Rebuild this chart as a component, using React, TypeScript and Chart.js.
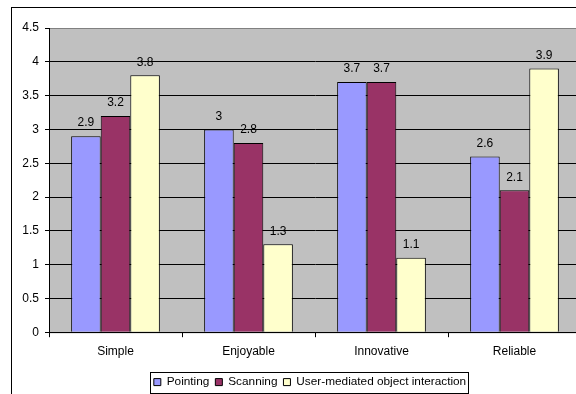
import React, { useEffect, useRef } from "react";
import { Chart, registerables } from "chart.js";

Chart.register(...registerables);

const categories = ["Simple", "Enjoyable", "Innovative", "Reliable"];
const seriesNames = ["Pointing", "Scanning", "User-mediated object interaction"];
const pointing = [2.9, 3, 3.7, 2.6];
const scanning = [3.2, 2.8, 3.7, 2.1];
const userMediated = [3.8, 1.3, 1.1, 3.9];
const seriesColors = ["#9999FF", "#993366", "#FFFFCC"];
const yMin = 0;
const yMax = 4.5;
const yStep = 0.5;

const FONT = "'Liberation Sans', Arial, sans-serif";

const framePlugin = {
  id: "frame",
  beforeDraw(chart: any) {
    const { ctx, chartArea: a } = chart;
    ctx.save();
    ctx.fillStyle = "#ffffff";
    ctx.fillRect(0, 0, chart.width, chart.height);
    ctx.strokeStyle = "#000000";
    ctx.lineWidth = 1;
    ctx.strokeRect(11.5, 7.5, chart.width + 20, chart.height + 20);
    ctx.fillStyle = "#C0C0C0";
    ctx.fillRect(a.left, a.top, a.right - a.left, a.bottom - a.top);
    ctx.strokeStyle = "#808080";
    ctx.strokeRect(a.left + 0.5, a.top + 0.5, a.right - a.left, a.bottom - a.top);
    ctx.restore();
  },
};

const valueLabelPlugin = {
  id: "valueLabels",
  afterDatasetsDraw(chart: any) {
    const { ctx } = chart;
    ctx.save();
    ctx.fillStyle = "#000000";
    ctx.font = `12px ${FONT}`;
    ctx.textAlign = "center";
    ctx.textBaseline = "middle";
    chart.data.datasets.forEach((ds: any, i: number) => {
      const meta = chart.getDatasetMeta(i);
      meta.data.forEach((el: any, j: number) => {
        ctx.fillText(String(ds.data[j]), el.x, el.y - 13);
      });
    });
    ctx.restore();
  },
};

const legendBoxPlugin = {
  id: "legendBox",
  afterDraw(chart: any) {
    const lg = chart.legend;
    if (!lg || !lg.legendHitBoxes || !lg.legendHitBoxes.length) return;
    const hb = lg.legendHitBoxes;
    let l = Infinity, r = -Infinity, t = Infinity, b = -Infinity;
    hb.forEach((h: any) => {
      l = Math.min(l, h.left);
      r = Math.max(r, h.left + h.width);
      t = Math.min(t, h.top);
      b = Math.max(b, h.top + h.height);
    });
    const { ctx } = chart;
    ctx.save();
    ctx.strokeStyle = "#000000";
    ctx.lineWidth = 1;
    ctx.strokeRect(Math.round(l - 4) + 0.5, Math.round(t - 4) + 0.5, Math.round(r - l + 6), Math.round(b - t + 9));
    ctx.restore();
  },
};

export default function App() {
  const ref = useRef<HTMLCanvasElement>(null);
  useEffect(() => {
    const canvas = ref.current!;
    const datasets = [pointing, scanning, userMediated].map((d, i) => ({
      label: seriesNames[i],
      data: d,
      backgroundColor: seriesColors[i],
      borderColor: "#000000",
      borderWidth: 1,
      categoryPercentage: 0.667,
      barPercentage: 1,
      yAxisID: "y",
    }));
    const chart = new Chart(canvas, {
      type: "bar",
      data: { labels: categories, datasets },
      options: {
        responsive: false,
        animation: false,
        devicePixelRatio: 1,
        layout: { padding: { left: 11, right: 11, top: 28, bottom: 0 } },
        plugins: {
          tooltip: { enabled: false },
          legend: {
            position: "bottom",
            labels: {
              boxWidth: 7,
              boxHeight: 7,
              padding: 6,
              color: "#000000",
              font: { family: FONT, size: 11.8 },
            },
          },
        },
        scales: {
          x: {
            grid: {
              display: true,
              drawOnChartArea: false,
              drawTicks: true,
              tickLength: 5,
              color: "#000000",
              offset: true,
            },
            border: { display: true, color: "#000000" },
            ticks: { color: "#000000", font: { family: FONT, size: 12 }, padding: 7 },
            afterFit(scale: any) {
              scale.height = 38;
            },
          },
          y: {
            position: "left",
            min: yMin,
            max: yMax,
            ticks: {
              stepSize: yStep,
              color: "#000000",
              font: { family: FONT, size: 12 },
              padding: 6,
              callback: (v: any) => String(Number(v)),
            },
            grid: {
              color: (c: any) => (c.tick && c.tick.value === yMax ? "#808080" : "#000000"),
              tickColor: "#000000",
              tickLength: 4,
            },
            border: { display: true, color: "#000000" },
            afterFit(scale: any) {
              scale.width = 38;
            },
          },
          yRight: {
            type: "linear",
            position: "right",
            display: true,
            grid: { display: false, drawTicks: false },
            ticks: { display: false },
            border: { display: false },
            afterFit(scale: any) {
              scale.width = 28;
            },
          },
        },
      },
      plugins: [framePlugin, valueLabelPlugin, legendBoxPlugin],
    });
    return () => chart.destroy();
  }, []);
  return (
    <div style={{ position: "fixed", left: 0, top: 0, width: 576, height: 394, overflow: "hidden", background: "#fff" }}>
      <canvas ref={ref} width={620} height={398} style={{ width: 620, height: 398, display: "block" }} />
    </div>
  );
}
